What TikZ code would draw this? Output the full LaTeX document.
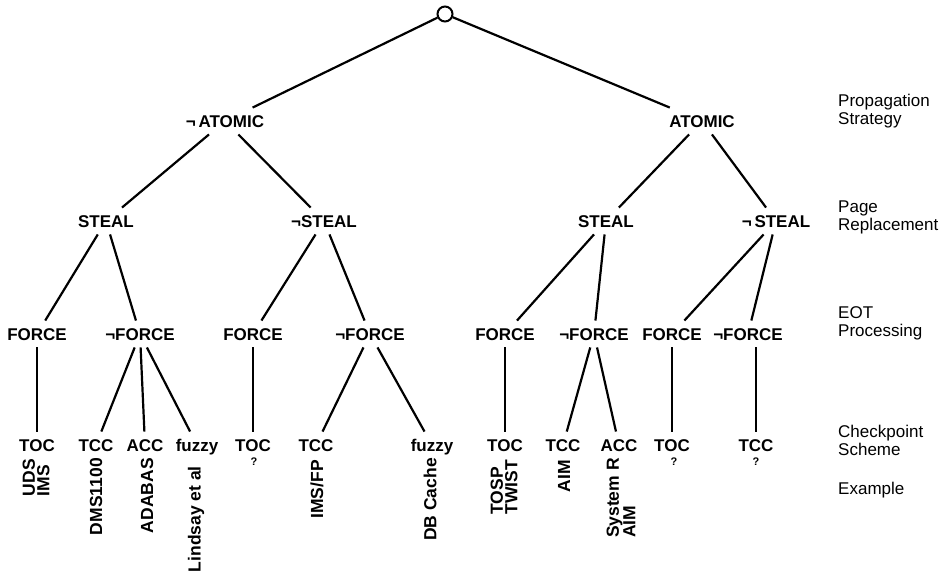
\documentclass[tikz,border=0pt]{standalone}
\usepackage{fontspec}
\setmainfont{Liberation Sans}
\begin{document}
\begin{tikzpicture}[x=1pt,y=-1pt,
  lab/.style={font=\bfseries\fontsize{17}{17}\selectfont, inner xsep=1pt, inner ysep=7pt, text height=12.5pt, text depth=0pt},
  ex/.style={font=\bfseries\fontsize{17.5}{14.5}\selectfont, rotate=90, anchor=east, align=left, inner sep=0pt},
  qm/.style={font=\bfseries\fontsize{11}{11}\selectfont, inner sep=0pt},
  side/.style={font=\fontsize{17}{18}\selectfont, anchor=west, align=left, inner sep=0pt},
  edge/.style={line width=2.2pt},
  rootc/.style={circle, draw, line width=2pt, fill=white, minimum size=15pt, inner sep=0pt}
  ]
\useasboundingbox (0,0) rectangle (952,572);

% root
\node[rootc] (root) at (445,14) {};

% level 1
\node[lab] (nA) at (225,121) {¬\,ATOMIC};
\node[lab] (A)  at (702,121) {ATOMIC};

% level 2
\node[lab] (S1)  at (106,221) {STEAL};
\node[lab] (NS1) at (324,221) {¬STEAL};
\node[lab] (S2)  at (606,221) {STEAL};
\node[lab] (NS2) at (776,221) {¬\,STEAL};

% level 3
\node[lab] (F1)  at (37,334)  {FORCE};
\node[lab] (NF1) at (140,334) {¬FORCE};
\node[lab] (F2)  at (253,334) {FORCE};
\node[lab] (NF2) at (370,334) {¬FORCE};
\node[lab] (F3)  at (505,334) {FORCE};
\node[lab] (NF3) at (594,334) {¬FORCE};
\node[lab] (F4)  at (672,334) {FORCE};
\node[lab] (NF4) at (748,334) {¬FORCE};

% level 4
\node[lab] (C1)  at (37,445)  {TOC};
\node[lab] (C2)  at (96,445)  {TCC};
\node[lab] (C3)  at (145,445) {ACC};
\node[lab] (C4)  at (197,445) {fuzzy};
\node[lab] (C5)  at (253,445) {TOC};
\node[lab] (C6)  at (316,445) {TCC};
\node[lab] (C7)  at (432,445) {fuzzy};
\node[lab] (C8)  at (505,445) {TOC};
\node[lab] (C9)  at (563,445) {TCC};
\node[lab] (C10) at (619,445) {ACC};
\node[lab] (C11) at (672,445) {TOC};
\node[lab] (C12) at (756,445) {TCC};

% question marks
\node[qm] (q1) at (254,462) {?};
\node[qm] (q2) at (674,462) {?};
\node[qm] (q3) at (756,462) {?};

% examples
\node[ex] (e1) at (36,459)  {UDS\\IMS};
\node[ex] (e2) at (96,458)  {DMS1100};
\node[ex] (e3) at (147,458) {ADABAS};
\node[ex] (e4) at (196,466) {Lindsay et al};
\node[ex] (e5) at (317,460) {IMS/FP};
\node[ex] (e6) at (430,458) {DB Cache};
\node[ex] (e7) at (504,460) {TOSP\\TWIST};
\node[ex] (e8) at (564,460) {AIM};
\node[ex] (e9) at (621,458) {System R\\AIM};

% side labels
\node[side] (s1) at (838,111) {Propagation\\Strategy};
\node[side] (s2) at (838,217) {Page\\Replacement};
\node[side] (s3) at (838,323) {EOT\\Processing};
\node[side] (s4) at (838,440) {Checkpoint\\Scheme};
\node[side] (s5) at (838,490) {Example};

% connectors
\draw[edge] (root) -- (nA);
\draw[edge] (root) -- (A);
\draw[edge] (nA) -- (S1);
\draw[edge] (nA) -- (NS1);
\draw[edge] (A) -- (S2);
\draw[edge] (A) -- (NS2);
\draw[edge] (S1) -- (F1);
\draw[edge] (S1) -- (NF1);
\draw[edge] (NS1) -- (F2);
\draw[edge] (NS1) -- (NF2);
\draw[edge] (S2) -- (F3);
\draw[edge] (S2) -- (NF3);
\draw[edge] (NS2) -- (F4);
\draw[edge] (NS2) -- (NF4);
\draw[edge] (F1) -- (C1);
\draw[edge] (NF1) -- (C2);
\draw[edge] (NF1) -- (C3);
\draw[edge] (NF1) -- (C4);
\draw[edge] (F2) -- (C5);
\draw[edge] (NF2) -- (C6);
\draw[edge] (NF2) -- (C7);
\draw[edge] (F3) -- (C8);
\draw[edge] (NF3) -- (C9);
\draw[edge] (NF3) -- (C10);
\draw[edge] (F4) -- (C11);
\draw[edge] ([xshift=8pt]NF4.south) -- (C12.north);
\end{tikzpicture}
\end{document}
